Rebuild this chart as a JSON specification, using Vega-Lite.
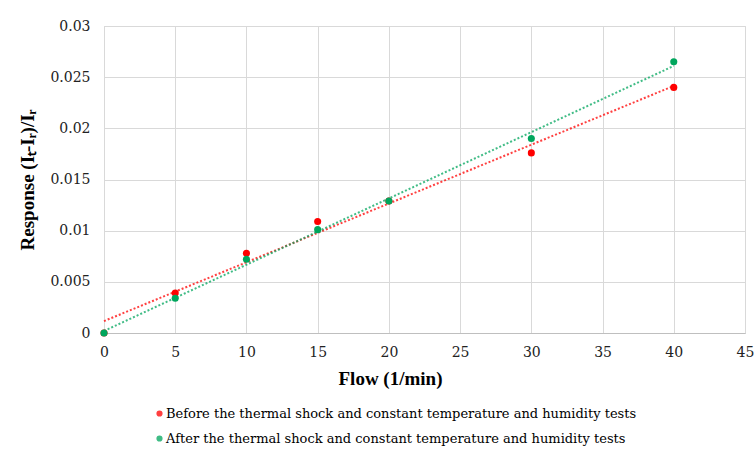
{
  "$schema": "https://vega.github.io/schema/vega-lite/v6.json",
  "width": 641,
  "height": 307,
  "autosize": {"type": "none"},
  "padding": {"left": 104, "top": 26, "right": 9, "bottom": 128},
  "background": "white",
  "config": {
    "font": "Liberation Serif",
    "view": {"stroke": "#d9d9d9"},
    "axis": {
      "gridColor": "#d9d9d9",
      "ticks": false,
      "labelColor": "#222222",
      "titleColor": "#000000",
      "titleFont": "Liberation Serif",
      "labelFont": "DejaVu Serif",
      "labelFontSize": 14,
      "titleFontSize": 19,
      "titleFontWeight": "bold",
      "labelFlush": false
    }
  },
  "data": {
    "values": [
      {"series": "Before the thermal shock and constant temperature and humidity tests", "flow": 0, "resp": 0},
      {"series": "Before the thermal shock and constant temperature and humidity tests", "flow": 5, "resp": 0.0039},
      {"series": "Before the thermal shock and constant temperature and humidity tests", "flow": 10, "resp": 0.0078},
      {"series": "Before the thermal shock and constant temperature and humidity tests", "flow": 15, "resp": 0.0109},
      {"series": "Before the thermal shock and constant temperature and humidity tests", "flow": 20, "resp": 0.0129},
      {"series": "Before the thermal shock and constant temperature and humidity tests", "flow": 30, "resp": 0.0176},
      {"series": "Before the thermal shock and constant temperature and humidity tests", "flow": 40, "resp": 0.0240},
      {"series": "After the thermal shock and constant temperature and humidity tests", "flow": 0, "resp": 0},
      {"series": "After the thermal shock and constant temperature and humidity tests", "flow": 5, "resp": 0.0034},
      {"series": "After the thermal shock and constant temperature and humidity tests", "flow": 10, "resp": 0.0072},
      {"series": "After the thermal shock and constant temperature and humidity tests", "flow": 15, "resp": 0.0101},
      {"series": "After the thermal shock and constant temperature and humidity tests", "flow": 20, "resp": 0.0129},
      {"series": "After the thermal shock and constant temperature and humidity tests", "flow": 30, "resp": 0.0190},
      {"series": "After the thermal shock and constant temperature and humidity tests", "flow": 40, "resp": 0.0265}
    ]
  },
  "encoding": {
    "x": {
      "field": "flow", "type": "quantitative",
      "scale": {"domain": [0, 45]},
      "axis": {
        "values": [0, 5, 10, 15, 20, 25, 30, 35, 40, 45],
        "title": "Flow (1/min)",
        "grid": true,
        "domainColor": "#bfbfbf",
        "labelPadding": 12,
        "titlePadding": 10,
        "titleX": 286,
        "titleAlign": "center"
      }
    },
    "y": {
      "field": "resp", "type": "quantitative",
      "scale": {"domain": [0, 0.03]},
      "axis": {
        "values": [0, 0.005, 0.01, 0.015, 0.02, 0.025, 0.03],
        "format": "~g",
        "title": "Response (Iₜ-Iᵣ)/Iᵣ",
        "grid": true,
        "domainColor": "#d9d9d9",
        "labelPadding": 14,
        "titlePadding": 12
      }
    },
    "color": {
      "field": "series", "type": "nominal",
      "scale": {"domain": ["Before the thermal shock and constant temperature and humidity tests", "After the thermal shock and constant temperature and humidity tests"], "range": ["#FF0000", "#00A65D"]},
      "legend": {
        "title": null,
        "orient": "none",
        "legendX": 49,
        "legendY": 381,
        "direction": "vertical",
        "symbolType": "circle",
        "symbolSize": 22,
        "labelFont": "DejaVu Serif",
        "labelFontSize": 13,
        "labelColor": "#000000",
        "labelLimit": 0,
        "labelOffset": 0,
        "rowPadding": 11
      }
    }
  },
  "layer": [
    {
      "transform": [{"regression": "resp", "on": "flow", "groupby": ["series"]}],
      "mark": {"type": "line", "strokeDash": [2, 2], "strokeWidth": 2, "opacity": 0.75}
    },
    {
      "mark": {"type": "circle", "size": 50, "opacity": 1}
    }
  ]
}
